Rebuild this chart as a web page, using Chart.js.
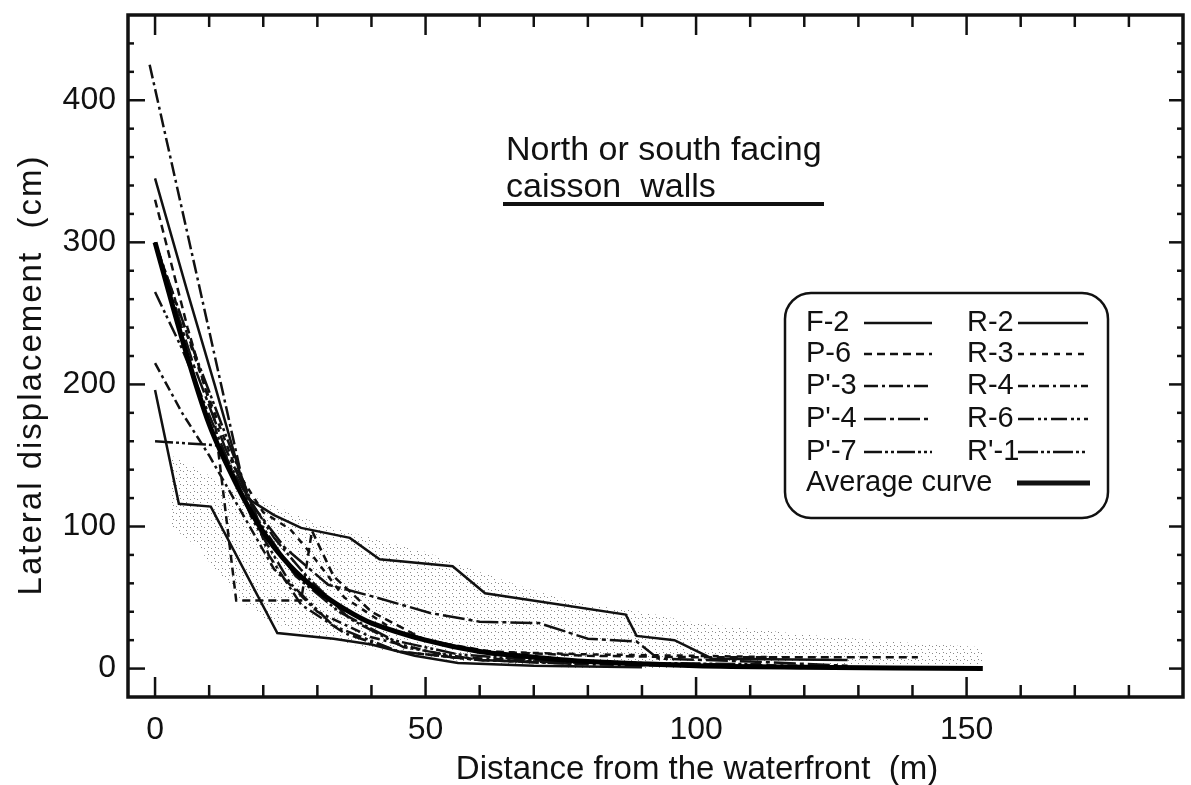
<!DOCTYPE html>
<html>
<head>
<meta charset="utf-8">
<script src="https://cdn.jsdelivr.net/npm/chart.js@4.4.1/dist/chart.umd.min.js"></script>
<style>
  html, body { margin: 0; padding: 0; background: #fff; }
</style>
</head>
<body>
<canvas id="lateralChart" width="1191" height="785"></canvas>
<script>
// lateral displacement vs distance from waterfront, caisson walls

// [distance (m), displacement (cm)]
const f2  = [[0,196],[4.4,116],[10.3,114],[22.6,25],[33,21],[40,17],[48,9],[56,4],[70,2],[90,1]];
const p6  = [[0,330],[6,240],[11,175],[15,48],[27,48],[29,97],[33,65],[40,40],[50,20],[62,12],[80,9],[100,8],[141,8]];
const p3  = [[-1,425],[8,272],[16,135],[21,80],[27,45],[35,25],[45,12],[60,6],[80,3],[100,2]];
const p4  = [[0,300],[7,215],[13,155],[18,115],[24,85],[32,59],[40,51],[51,39],[60,33],[71,32],[80,21],[89,19],[93,7],[110,5],[128,2]];
const p7  = [[0,160],[12,157],[16,128],[22,92],[28,65],[36,35],[46,15],[60,6],[80,3]];
const r2  = [[0,345],[6,265],[11,200],[17,120],[22,108],[27,99],[36,92],[41.5,77],[55,72],[61,53],[87,38],[89,23],[96,20],[103,7],[128,6]];
const r3  = [[0,300],[5,245],[10,190],[15,140],[20,110],[25,98],[29,80],[35,50],[45,25],[60,12],[80,10],[100,9],[115,8]];
const r4  = [[0,215],[5,180],[10,150],[16,110],[22,70],[30,40],[40,22],[55,8],[75,5],[100,3],[120,2]];
const r6  = [[0,265],[5,225],[12,160],[18,105],[25,60],[33,30],[45,12],[60,6],[80,4],[105,3]];
const r1  = [[0,300],[6,235],[13,165],[19,105],[26,65],[34,40],[44,20],[56,10],[70,6],[90,4],[112,3]];
const avg = [[0,300],[5,232],[10,172],[15,130],[20,96],[25,72],[30,55],[35,42],[40,32],[50,20],[60,12],[70,8],[80,5],[100,2],[120,1],[153,0]];

// shaded scatter band
const bandX     = [3, 8, 12, 16, 20, 25, 30, 40, 50, 60, 70, 80, 90, 100, 120, 140, 153];
const bandUpper = [150, 140, 132, 125, 118, 110, 102, 92, 82, 68, 55, 45, 40, 32, 24, 18, 15];
const bandLower = [100, 85, 65, 48, 35, 28, 22, 14, 8, 4, 2, 0, 0, 0, 0, 0, 0];

const xTicks = [0, 50, 100, 150];
const yTicks = [0, 100, 200, 300, 400];

const FONT = '"Liberation Sans", Arial, Helvetica, sans-serif';

const pts = arr => arr.map(p => ({ x: p[0], y: p[1] }));

const series = [
  { label: 'F-2',  data: f2,  dash: [] },
  { label: 'P-6',  data: p6,  dash: [8, 5] },
  { label: "P'-3", data: p3,  dash: [14, 4, 3, 4] },
  { label: "P'-4", data: p4,  dash: [22, 4, 4, 4] },
  { label: "P'-7", data: p7,  dash: [18, 3, 3, 3, 3, 3] },
  { label: 'R-2',  data: r2,  dash: [] },
  { label: 'R-3',  data: r3,  dash: [6, 6] },
  { label: 'R-4',  data: r4,  dash: [10, 4, 3, 4] },
  { label: 'R-6',  data: r6,  dash: [16, 4, 3, 3, 3, 4] },
  { label: "R'-1", data: r1,  dash: [20, 3, 3, 3, 3, 3] }
];

// stipple for the band
const pc = document.createElement('canvas');
pc.width = 7; pc.height = 7;
const pcx = pc.getContext('2d');
pcx.fillStyle = '#8a8a8a';
pcx.fillRect(1, 2, 1, 1);
pcx.fillRect(4, 5, 1, 1);
pcx.fillRect(5, 1, 1, 1);
const stipple = pcx.createPattern(pc, 'repeat');

const datasets = [
  {
    label: 'band-upper',
    data: bandX.map((x, i) => ({ x: x, y: bandUpper[i] })),
    borderWidth: 0, pointRadius: 0, fill: '+1',
    backgroundColor: stipple, order: 20
  },
  {
    label: 'band-lower',
    data: bandX.map((x, i) => ({ x: x, y: bandLower[i] })),
    borderWidth: 0, pointRadius: 0, fill: false, order: 21
  }
];
series.forEach(s => {
  datasets.push({
    label: s.label,
    data: pts(s.data),
    borderColor: '#111',
    borderWidth: 2.5,
    borderDash: s.dash,
    pointRadius: 0,
    tension: 0,
    fill: false,
    order: 5
  });
});
datasets.push({
  label: 'Average curve',
  data: pts(avg),
  borderColor: '#000',
  borderWidth: 5,
  pointRadius: 0,
  tension: 0.3,
  fill: false,
  order: 1
});

const line = (ctx, x1, y1, x2, y2) => {
  ctx.beginPath(); ctx.moveTo(x1, y1); ctx.lineTo(x2, y2); ctx.stroke();
};

// frame with inward ticks on all four sides
const frame = {
  id: 'frame',
  afterDraw(chart) {
    const { ctx, chartArea: a, scales: { x, y } } = chart;
    ctx.save();
    ctx.strokeStyle = '#111';
    ctx.lineWidth = 3.5;
    ctx.strokeRect(a.left, a.top, a.right - a.left, a.bottom - a.top);
    ctx.lineWidth = 2.5;
    for (let v = 0; v <= 180; v += 10) {
      const px = x.getPixelForValue(v);
      const len = v % 50 === 0 ? 20 : 12;
      line(ctx, px, a.bottom, px, a.bottom - len);
      line(ctx, px, a.top, px, a.top + len);
    }
    for (let v = 0; v <= 440; v += 20) {
      const py = y.getPixelForValue(v);
      const major = v % 100 === 0;
      line(ctx, a.left, py, a.left + (major ? 17 : 6), py);
      line(ctx, a.right, py, a.right - (major ? 14 : 6), py);
    }

    // axis titles
    ctx.fillStyle = '#111';
    ctx.font = '33px ' + FONT;
    ctx.textAlign = 'center';
    ctx.textBaseline = 'middle';
    ctx.fillText('Distance from the waterfront  (m)', 697, 770);
    ctx.save();
    ctx.translate(32, 375);
    ctx.rotate(-Math.PI / 2);
    ctx.letterSpacing = '2px';
    ctx.fillText('Lateral displacement  (cm)', 0, 0);
    ctx.restore();

    // caption
    ctx.textAlign = 'left';
    ctx.font = '34px ' + FONT;
    ctx.fillText('North or south facing', 506, 151);
    ctx.fillText('caisson  walls', 506, 188);
    ctx.lineWidth = 4;
    line(ctx, 503, 204, 824, 204);

    // legend box
    const bx = 785, by = 293, bw = 323, bh = 225, r = 26;
    ctx.lineWidth = 2.5;
    ctx.fillStyle = '#fff';
    ctx.beginPath();
    ctx.roundRect(bx, by, bw, bh, r);
    ctx.fill();
    ctx.stroke();

    ctx.fillStyle = '#111';
    ctx.font = '29px ' + FONT;
    const rows = [323, 354, 386, 419, 452];
    series.forEach((s, i) => {
      const col = i < 5 ? 0 : 1;
      const yy = rows[i % 5];
      const tx = col === 0 ? 806 : 967;
      const l1 = col === 0 ? 864 : 1018;
      const l2 = col === 0 ? 932 : 1088;
      ctx.fillText(s.label, tx, yy);
      ctx.lineWidth = 2.5;
      ctx.setLineDash(s.dash);
      line(ctx, l1, yy, l2, yy);
      ctx.setLineDash([]);
    });
    ctx.fillText('Average curve', 806, 483);
    ctx.lineWidth = 5;
    line(ctx, 1017, 483, 1090, 483);
    ctx.restore();
  }
};

const noPad = s => {
  s.paddingTop = 0; s.paddingBottom = 0; s.paddingLeft = 0; s.paddingRight = 0;
};

new Chart(document.getElementById('lateralChart').getContext('2d'), {
  type: 'line',
  data: { datasets: datasets },
  options: {
    responsive: false,
    animation: false,
    layout: { padding: { top: 15, right: 8, left: 0, bottom: 0 } },
    plugins: {
      legend: { display: false },
      tooltip: { enabled: false }
    },
    scales: {
      x: {
        type: 'linear',
        min: -5,
        max: 190,
        afterBuildTicks: s => { s.ticks = xTicks.map(v => ({ value: v })); },
        afterFit: s => { s.height = 88; noPad(s); },
        grid: { display: false, drawTicks: false },
        border: { display: false },
        ticks: { color: '#111', font: { family: FONT, size: 32 }, padding: 14, maxRotation: 0 }
      },
      y: {
        type: 'linear',
        min: -20,
        max: 460,
        afterBuildTicks: s => { s.ticks = yTicks.map(v => ({ value: v })); },
        afterFit: s => { s.width = 128; noPad(s); },
        grid: { display: false, drawTicks: false },
        border: { display: false },
        ticks: { color: '#111', font: { family: FONT, size: 32 }, padding: 12 }
      }
    }
  },
  plugins: [frame]
});
</script>
</body>
</html>
